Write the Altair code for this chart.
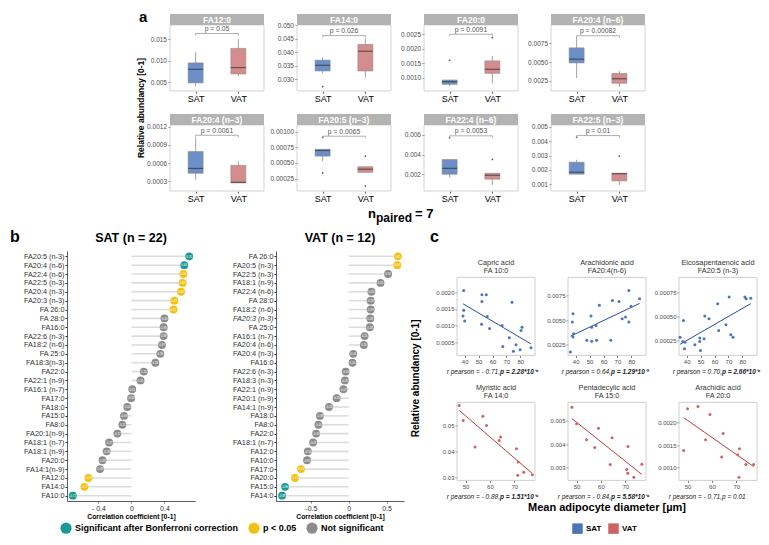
import altair as alt
import pandas as pd

FONT = "Liberation Sans"
GROUPS = ["SAT", "VAT"]

# ---------------- panel a : box plots ----------------
BOX_NAMES = ["FA12:0", "FA14:0", "FA20:0", "FA20:4 (n−6)",
             "FA20:4 (n−3)", "FA20:5 (n−3)", "FA22:4 (n−6)", "FA22:5 (n−3)"]
# [lower whisker, q1, median, q3, upper whisker]
BOX_SAT = [
    [0.0040, 0.0048, 0.0080, 0.0095, 0.0121],
    [0.0322, 0.0331, 0.0352, 0.0371, 0.0381],
    [0.00071, 0.00077, 0.00086, 0.00092, 0.00093],
    [0.0029, 0.0049, 0.0054, 0.0069, 0.0083],
    [0.00032, 0.00043, 0.00051, 0.00079, 0.00102],
    [0.00053, 0.00061, 0.00070, 0.00072, 0.00072],
    [0.0017, 0.0020, 0.0026, 0.0035, 0.0035],
    [0.00169, 0.00169, 0.00183, 0.00253, 0.0027],
]
BOX_VAT = [
    [0.0064, 0.0069, 0.0084, 0.0129, 0.0151],
    [0.0306, 0.0331, 0.0404, 0.0429, 0.0452],
    [0.00081, 0.00115, 0.00129, 0.00158, 0.00174],
    [0.0017, 0.0022, 0.0028, 0.0035, 0.0038],
    [0.00027, 0.00027, 0.00028, 0.00056, 0.00063],
    [0.00035, 0.00035, 0.00040, 0.00044, 0.00044],
    [0.0009, 0.0015, 0.0019, 0.0021, 0.0021],
    [0.00093, 0.00122, 0.00172, 0.00176, 0.00176],
]
OUT_SAT = [[], [0.0273], [0.0016], [], [], [0.00091, 0.00034], [0.0057], [0.00428]]
OUT_VAT = [[], [], [0.00238], [], [], [0.00061, 0.00013], [0.0035], [0.00295]]
P_TEXT = ["p = 0.05", "p = 0.026", "p = 0.0091", "p = 0.00082",
          "p = 0.0061", "p = 0.0065", "p = 0.0053", "p = 0.01"]
P_Y = [0.0164, 0.0462, 0.0025, 0.0085, 0.00106, 0.00093, 0.0059, 0.0044]
Y_DOM = [[0.0029, 0.0184], [0.0257, 0.0501], [0.00054, 0.00282], [0.00117, 0.00993],
         [0.000136, 0.00123], [0.00005, 0.00111], [0.0003, 0.0070], [0.00051, 0.00514]]
Y_TICKS = [[0.005, 0.010, 0.015], [0.030, 0.035, 0.040, 0.045, 0.050],
           [0.0010, 0.0015, 0.0020, 0.0025], [0.0025, 0.0050, 0.0075],
           [0.0003, 0.0006, 0.0009, 0.0012], [0.00025, 0.00050, 0.00075, 0.00100],
           [0.002, 0.004, 0.006], [0.001, 0.002, 0.003, 0.004, 0.005]]
Y_FMT = [".3f", ".3f", ".4f", ".4f", ".4f", ".5f", ".3f", ".3f"]

# ---------------- panel b : correlation lollipops ----------------
SIG_DOM = ["Significant after Bonferroni correction", "p < 0.05", "Not significant"]
SIG_COL = ["#1b9a95", "#f2c111", "#8c8c8c"]
SIG_CODE = {"B": SIG_DOM[0], "P": SIG_DOM[1], "N": SIG_DOM[2]}

SAT_LABELS = ["FA20:5 (n-3)", "FA20:4 (n-6)", "FA22:4 (n-6)", "FA22:5 (n-3)", "FA20:4 (n-3)",
              "FA20:3 (n-3)", "FA 26:0", "FA 28:0", "FA16:0", "FA22:6 (n-3)", "FA18:2 (n-6)",
              "FA 25:0", "FA18:3(n-3)", "FA22:0", "FA22:1 (n-9)", "FA16:1 (n-7)", "FA17:0",
              "FA18:0", "FA15:0", "FA8:0", "FA20:1(n-9)", "FA18:1 (n-7)", "FA18:1 (n-9)",
              "FA20:0", "FA14:1(n-9)", "FA12:0", "FA14:0", "FA10:0"]
SAT_R = [0.70, 0.64, 0.63, 0.62, 0.60, 0.52, 0.51, 0.40, 0.39, 0.39, 0.37, 0.35, 0.29,
         0.15, 0.11, 0.01, -0.004, -0.05, -0.09, -0.11, -0.17, -0.27, -0.30, -0.35,
         -0.38, -0.52, -0.57, -0.71]
SAT_SIG = list("BBPPPPPNNNNNNNNNNNNNNNNNNPPB")

VAT_LABELS = ["FA 26:0", "FA20:5 (n-3)", "FA22:5 (n-3)", "FA18:1 (n-9)", "FA22:4 (n-6)",
              "FA 28:0", "FA18:2 (n-6)", "FA20:3 (n-3)", "FA 25:0", "FA16:1 (n-7)",
              "FA20:4 (n-6)", "FA20:4 (n-3)", "FA16:0", "FA22:6 (n-3)", "FA18:3 (n-3)",
              "FA22:1 (n-9)", "FA20:1 (n-9)", "FA14:1 (n-9)", "FA18:0", "FA8:0", "FA22:0",
              "FA18:1 (n-7)", "FA12:0", "FA10:0", "FA17:0", "FA20:0", "FA15:0", "FA14:0"]
VAT_R = [0.65, 0.64, 0.52, 0.42, 0.30, 0.29, 0.29, 0.285, 0.28, 0.21, 0.20, 0.06, 0.05,
         -0.04, -0.05, -0.07, -0.16, -0.26, -0.38, -0.40, -0.43, -0.47, -0.54, -0.55,
         -0.63, -0.71, -0.84, -0.88]
VAT_SIG = list("PPNNNNNNNNNNNNNNNNNNNNNNPPBB")

# ---------------- panel c : scatter plots ----------------
SC_TITLE = [["Capric acid", "FA 10:0"], ["Arachidonic acid", "FA20:4(n-6)"],
            ["Eicosapentaenoic acid", "FA20:5 (n-3)"], ["Myristic acid", "FA 14:0"],
            ["Pentadecylic acid", "FA 15:0"], ["Arachidic acid", "FA 20:0"]]
SC_GRP = ["SAT", "SAT", "SAT", "VAT", "VAT", "VAT"]
SC_X = [
    [39.3, 39.3, 38.8, 40.0, 52.4, 55.5, 52.4, 56.2, 52.1, 57.9, 66.9, 74.0, 72.1, 67.4,
     81.2, 80.5, 76.9, 75.0, 79.8, 87.6],
    [36.2, 38.1, 37.6, 38.5, 38.1, 48.0, 51.0, 51.5, 54.6, 55.0, 57.0, 51.5, 65.2, 66.4,
     71.1, 73.4, 75.8, 78.2, 78.2, 79.8, 85.9],
    [35.3, 37.2, 38.8, 38.4, 37.7, 45.9, 49.4, 49.9, 49.4, 52.5, 53.0, 56.0, 62.3, 63.0,
     68.2, 70.5, 71.7, 73.3, 81.8, 82.7, 86.0],
    [47.4, 49.0, 53.9, 57.1, 58.6, 63.8, 64.4, 70.9, 71.6, 71.4, 73.9, 77.4],
    [48.1, 50.0, 54.1, 57.5, 59.0, 63.8, 64.6, 70.6, 71.0, 71.1, 73.5, 76.8],
    [48.4, 50.0, 54.3, 59.2, 57.4, 64.6, 64.0, 70.6, 71.3, 71.1, 73.9, 77.1],
]
SC_Y = [
    [0.00205, 0.00146, 0.00129, 0.00114, 0.00192, 0.00192, 0.00172, 0.00128, 0.00105,
     0.00092, 0.00101, 0.00170, 0.00065, 0.00039, 0.00096, 0.00086, 0.00044, 0.00025,
     0.00029, 0.00035],
    [0.00175, 0.00564, 0.00479, 0.00362, 0.00327, 0.00294, 0.00540, 0.00428, 0.00446,
     0.00294, 0.00649, 0.00284, 0.00294, 0.00699, 0.00689, 0.00514, 0.00530, 0.00801,
     0.00479, 0.00641, 0.00717],
    [0.000284, 0.000240, 0.000232, 0.000164, 0.000458, 0.000205, 0.000240, 0.000146,
     0.000274, 0.000267, 0.000503, 0.000476, 0.000632, 0.000354, 0.000413, 0.000701,
     0.000309, 0.000284, 0.000701, 0.000684, 0.000690],
    [0.0577, 0.0519, 0.0416, 0.0535, 0.0500, 0.0442, 0.0455, 0.0410, 0.0358, 0.0307,
     0.0319, 0.0309],
    [0.00556, 0.00486, 0.00418, 0.00385, 0.00467, 0.00314, 0.00427, 0.00292, 0.00277,
     0.00390, 0.00260, 0.00315],
    [0.00138, 0.00231, 0.00236, 0.00218, 0.00162, 0.00176, 0.00124, 0.00129, 0.00142,
     0.00079, 0.00107, 0.00107],
]
SC_XDOM = [[34.5, 90.5]] * 3 + [[46.5, 78.5]] * 3
SC_XTICKS = [[40, 50, 60, 70, 80]] * 3 + [[50, 60, 70]] * 3
SC_YDOM = [[0.000124, 0.002436], [0.001415, 0.009326], [0.000094, 0.000906],
           [0.02872, 0.0589], [0.002463, 0.00576], [0.000718, 0.00245]]
SC_YTICKS = [[0.0005, 0.0010, 0.0015, 0.0020], [0.0025, 0.0050, 0.0075],
             [0.00025, 0.00050, 0.00075], [0.03, 0.04, 0.05],
             [0.003, 0.004, 0.005], [0.0010, 0.0015, 0.0020]]
SC_YFMT = [".4f", ".4f", ".5f", ".2f", ".3f", ".4f"]
R_TEXT = ["r pearson = - 0.71, ", "r pearson =  0.64, ", "r pearson =  0.70, ",
          "r pearson = - 0.88, ", "r pearson = - 0.84, ", "r pearson = - 0.71, "]
P_TEXT_C = ["p = 2.28*10⁻⁴", "p = 1.29*10⁻³", "p = 2.66*10⁻⁴",
            "p = 1.51*10⁻⁴", "p = 5.58*10⁻⁴", "p = 0.01"]
P_BOLD = [True, True, True, True, True, False]

GRP_COL = ["#4a76b6", "#cd6464"]
LINE_COL = {"SAT": "#1f4f9e", "VAT": "#c23b3b"}
BOX_FILL = {"SAT": "#6b8fc6", "VAT": "#d48c8c"}

ONE = pd.DataFrame({"k": [0]})

# page position of the root coordinate origin (first cell's origin)
ORIGIN_X = 68
ORIGIN_Y = 25
SPACER_W = 67


def anchor(x, y):
    return alt.Chart(ONE).mark_rule(opacity=0, strokeWidth=1).encode(
        x=alt.value(x), x2=alt.value(x), y=alt.value(y), y2=alt.value(y + 1))


def label(text, x, y, size, weight="normal", color="black", align="center",
          baseline="middle", angle=0, style="normal", opacity=1):
    return alt.Chart(ONE).mark_text(
        text=text, fontSize=size, fontWeight=weight, color=color, align=align,
        baseline=baseline, angle=angle, fontStyle=style, opacity=opacity
    ).encode(x=alt.value(x), y=alt.value(y))


def frame(w, h, color):
    return alt.Chart(ONE).mark_rect(fill="transparent", stroke=color, strokeWidth=1).encode(
        x=alt.value(0), x2=alt.value(w), y=alt.value(0), y2=alt.value(h))


def blank(w, h):
    return alt.Chart(ONE).mark_rule(opacity=0).encode(
        x=alt.value(0), x2=alt.value(1), y=alt.value(0), y2=alt.value(1)
    ).properties(width=w, height=h)


# ---------------- build panel a ----------------
W_BOX, H_BOX = 94, 66


def box_chart(i):
    xsc = alt.Scale(type="point", domain=GROUPS, padding=0.6)
    ysc = alt.Scale(domain=Y_DOM[i], nice=False, zero=False)
    xax = alt.Axis(title=None, labelAngle=0, labelFontSize=9, labelColor="black",
                   domain=False, tickSize=2, tickColor="#555", labelPadding=1)
    yax = alt.Axis(title=None, values=Y_TICKS[i], format=Y_FMT[i], labelFontSize=6.5,
                   labelColor="#4d4d4d", tickSize=2, tickColor="#777", domain=False,
                   grid=False, labelPadding=1.5)

    def X(f):
        return alt.X(f"{f}:N", scale=xsc, axis=xax)

    def Y(f):
        return alt.Y(f"{f}:Q", scale=ysc, axis=yax)

    s, v = BOX_SAT[i], BOX_VAT[i]
    stats = pd.DataFrame({"group": GROUPS, "lo": [s[0], v[0]], "q1": [s[1], v[1]],
                          "med": [s[2], v[2]], "q3": [s[3], v[3]], "hi": [s[4], v[4]]})
    base = alt.Chart(stats)
    layers = [frame(W_BOX, H_BOX, "#d3d3d3")]
    layers.append(base.mark_rule(color="#8c8c8c", strokeWidth=0.8).encode(
        x=X("group"), y=Y("lo"), y2=alt.Y2("hi")))
    for g in GROUPS:
        layers.append(base.transform_filter(f"datum.group == '{g}'").mark_bar(
            size=15, fill=BOX_FILL[g], stroke="#8c8c8c", strokeWidth=0.6
        ).encode(x=X("group"), y=Y("q1"), y2=alt.Y2("q3")))
    layers.append(base.mark_tick(size=15, thickness=1.2, color="#333").encode(
        x=X("group"), y=Y("med")))
    og = ["SAT"] * len(OUT_SAT[i]) + ["VAT"] * len(OUT_VAT[i])
    ov = OUT_SAT[i] + OUT_VAT[i]
    if ov:
        layers.append(alt.Chart(pd.DataFrame({"group": og, "v": ov})).mark_circle(
            size=3, color="#555", opacity=1).encode(x=X("group"), y=Y("v")))
    tip = 0.03 * (Y_DOM[i][1] - Y_DOM[i][0])
    br = pd.DataFrame({"a": ["SAT"], "b": ["VAT"], "y": [P_Y[i]], "t": [P_TEXT[i]]})
    layers.append(alt.Chart(br).mark_rule(color="#8c8c8c", strokeWidth=0.7).encode(
        x=X("a"), x2=alt.X2("b"), y=Y("y")))
    tips = pd.DataFrame({"group": GROUPS, "y": [P_Y[i]] * 2, "y2": [P_Y[i] - tip] * 2})
    layers.append(alt.Chart(tips).mark_rule(color="#8c8c8c", strokeWidth=0.7).encode(
        x=X("group"), y=Y("y"), y2=alt.Y2("y2")))
    layers.append(alt.Chart(br).mark_text(fontSize=6.8, color="#555", baseline="bottom",
                                          dy=-1.5).encode(
        x=alt.value(W_BOX / 2), y=Y("y"), text="t:N"))
    layers.append(alt.Chart(ONE).mark_rect(color="#b3b3b3").encode(
        x=alt.value(0), x2=alt.value(W_BOX), y=alt.value(-11), y2=alt.value(0)))
    layers.append(label(BOX_NAMES[i], W_BOX / 2, -5.5, 8.5, "bold", "white"))
    if i == 0:
        layers.append(anchor(-36, -17))
        layers.append(label("a", -31, -8.5, 15, "bold", align="left"))
        layers.append(label("Relative abundancy [0-1]", -29, 83, 8.5, "bold", angle=270))
    if i == 5:
        layers.append(label("n", 71, 93, 13, "bold", align="left", baseline="alphabetic"))
        layers.append(label("paired", 79, 97, 12, "bold", align="left", baseline="alphabetic"))
        layers.append(label("= 7", 118, 93, 13, "bold", align="left", baseline="alphabetic"))
        layers.append(anchor(60, 100))
    return alt.layer(*layers).properties(width=W_BOX, height=H_BOX)


A_grid = alt.concat(*[box_chart(i) for i in range(8)], columns=4,
                    spacing={"row": 34, "column": 33}, bounds="flush")
A_row = alt.hconcat(blank(SPACER_W, 1), A_grid, spacing=0)

# ---------------- build panel b ----------------
W_L, H_L = 128, 250


def lolli(labels, r, sig, title, xdom, xticks, lexpr, ext, italic=None, letter=None):
    df = pd.DataFrame({"fa": labels, "r": r, "sig": [SIG_CODE[c] for c in sig],
                       "zero": [0.0] * len(r), "lab": [f"{v:.2f}" for v in r]})
    ysc = alt.Scale(type="point", domain=labels, padding=0.6)
    style = "normal"
    if italic:
        style = {"condition": {"test": f"datum.value == '{italic}'", "value": "italic"},
                 "value": "normal"}
    yax = alt.Axis(title=None, labelFontSize=7.3, labelColor="#333", tickSize=2,
                   tickColor="#333", domainColor="#333", domainWidth=0.8, labelPadding=1,
                   minExtent=ext, labelFontStyle=style)
    xsc = alt.Scale(domain=xdom, nice=False, zero=False)
    xax = alt.Axis(title="Correlation coefficient [0-1]", values=xticks, labelExpr=lexpr,
                   labelFontSize=7, labelColor="#333", titleFontSize=6.8,
                   titleFontWeight="bold", titleColor="black", tickSize=2, grid=False,
                   domainColor="#333", domainWidth=0.8, titlePadding=2, labelPadding=1)
    Y = alt.Y("fa:N", scale=ysc, axis=yax)
    base = alt.Chart(df)
    seg = base.mark_rule(color="#dcdcdc", strokeWidth=1.6).encode(
        x=alt.X("zero:Q", scale=xsc, axis=xax), x2=alt.X2("r"), y=Y)
    pts = base.mark_circle(size=62, opacity=1).encode(
        x=alt.X("r:Q", scale=xsc, axis=xax), y=Y,
        color=alt.Color("sig:N", scale=alt.Scale(domain=SIG_DOM, range=SIG_COL),
                        legend=alt.Legend(title=None, orient="none", legendX=61 - ORIGIN_X,
                                          legendY=522 - ORIGIN_Y, direction="horizontal",
                                          symbolType="circle", symbolSize=125,
                                          symbolStrokeWidth=0, labelFontSize=9,
                                          labelFontWeight="bold", labelColor="black",
                                          labelOffset=3, columnPadding=9, labelLimit=400)))
    txt = base.mark_text(fontSize=3, color="white").encode(
        x=alt.X("r:Q", scale=xsc, axis=xax), y=Y, text="lab:N")
    layers = [seg, pts, txt, label(title, W_L / 2, -13.5, 12.5, "bold")]
    if letter:
        layers.append(label("b", -57, -14, 16, "bold", align="left"))
        layers.append(anchor(-59, -25))
    else:
        layers.append(anchor(-ext, -25))
    return alt.layer(*layers).properties(width=W_L, height=H_L)


SAT_chart = lolli(SAT_LABELS, SAT_R, SAT_SIG, "SAT (n = 22)", [-0.78, 0.77], [-0.4, 0, 0.4],
                  "datum.value < 0 ? '- ' + format(-datum.value, '.1f') : "
                  "(datum.value == 0 ? '0' : format(datum.value, '.1f'))", 59, letter=True)
VAT_chart = lolli(VAT_LABELS, VAT_R, VAT_SIG, "VAT (n = 12)", [-0.96, 0.73], [-0.5, 0, 0.5],
                  "datum.value < 0 ? '-' + format(-datum.value, '.1f') : "
                  "(datum.value == 0 ? '0' : format(datum.value, '.1f'))", 76,
                  italic="FA20:3 (n-3)")

# ---------------- build panel c ----------------
W_S, H_S = 78, 78


def scatter(k):
    df = pd.DataFrame({"x": SC_X[k], "y": SC_Y[k], "grp": [SC_GRP[k]] * len(SC_X[k])})
    xsc = alt.Scale(domain=SC_XDOM[k], nice=False, zero=False)
    ysc = alt.Scale(domain=SC_YDOM[k], nice=False, zero=False)
    xax = alt.Axis(title=None, values=SC_XTICKS[k], labelFontSize=6, labelColor="#4d4d4d",
                   tickSize=2, tickColor="#777", domain=False, grid=False, labelPadding=1)
    yax = alt.Axis(title=None, values=SC_YTICKS[k], format=SC_YFMT[k], labelFontSize=6,
                   labelColor="#4d4d4d", tickSize=2, tickColor="#777", domain=False,
                   grid=False, labelPadding=1)
    X = alt.X("x:Q", scale=xsc, axis=xax)
    Y = alt.Y("y:Q", scale=ysc, axis=yax)
    base = alt.Chart(df)
    pts = base.mark_circle(size=9, opacity=1).encode(
        x=X, y=Y,
        fill=alt.Fill("grp:N", scale=alt.Scale(domain=GROUPS, range=GRP_COL),
                      legend=alt.Legend(title=None, orient="none", legendX=573 - ORIGIN_X,
                                        legendY=523 - ORIGIN_Y, direction="horizontal",
                                        symbolType="square", symbolSize=110,
                                        symbolStrokeWidth=0, labelFontSize=8,
                                        labelFontWeight="bold", labelColor="black",
                                        labelOffset=3, columnPadding=6)))
    line = base.transform_regression("x", "y").mark_line(
        color=LINE_COL[SC_GRP[k]], strokeWidth=1).encode(x=X, y=Y)
    cx = 43
    layers = [frame(W_S, H_S, "#cfcfcf"), line, pts,
              label(SC_TITLE[k][0], W_S / 2, -14, 7.3, color="#333"),
              label(SC_TITLE[k][1], W_S / 2, -6, 7.3, color="#333"),
              label(R_TEXT[k], cx, H_S + 17, 6.5, style="italic", color="#222", align="right"),
              label(P_TEXT_C[k], cx, H_S + 17, 6.5, weight="bold" if P_BOLD[k] else "normal",
                    style="italic", color="#222", align="left")]
    if k == 0:
        layers.append(label("c", -27, -40.4, 16, "bold", align="left"))
        layers.append(label("Relative abundancy [0-1]", -41, 101, 10, "bold", angle=270))
        layers.append(anchor(-47.3, -51.4))
    if k == 4:
        layers.append(label("Mean adipocyte diameter [µm]", 39, H_S + 28, 11, "bold"))
    return alt.layer(*layers).properties(width=W_S, height=H_S)


C_grid = alt.concat(*[scatter(k) for k in range(6)], columns=3,
                    spacing={"row": 47, "column": 33}, bounds="flush")
# drop panel c's frames 26 px below the frames of panel b
C_col = alt.vconcat(blank(1, 20), C_grid, spacing=6.4, bounds="flush")

B_row = alt.hconcat(SAT_chart, VAT_chart, C_col, spacing=5)

chart = alt.vconcat(A_row, B_row, spacing=0).properties(padding=0).configure(
    font=FONT).configure_view(strokeWidth=0)

chart.save("out.html", embed_options={"renderer": "svg", "actions": False})
